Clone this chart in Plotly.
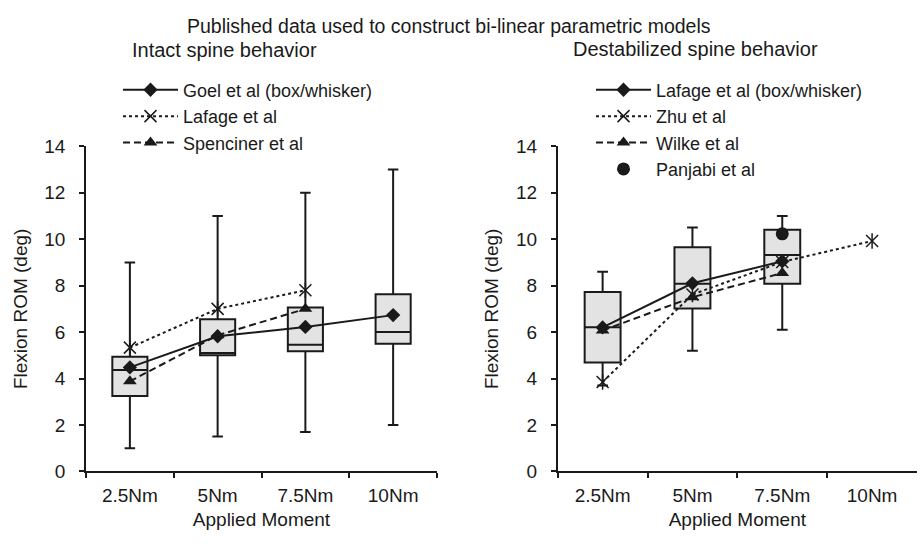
import plotly.graph_objects as go

cats = ["2.5Nm", "5Nm", "7.5Nm", "10Nm"]

# Intact (left) - Goel box/whisker
goel_min = [1.0, 1.5, 1.7, 2.0]
goel_q1 = [3.25, 5.0, 5.18, 5.5]
goel_med = [4.37, 5.1, 5.45, 6.0]
goel_q3 = [4.94, 6.55, 7.06, 7.63]
goel_max = [9.0, 11.0, 12.0, 13.0]
goel_mean = [4.48, 5.82, 6.22, 6.73]
lafage_intact = [5.33, 7.0, 7.8]
spenciner = [3.88, 5.86, 7.0]

# Destabilized (right) - Lafage box/whisker
lafage_cats = ["2.5Nm", "5Nm", "7.5Nm"]
lafage_min = [3.7, 5.2, 6.1]
lafage_q1 = [4.69, 7.01, 8.08]
lafage_med = [6.21, 8.08, 9.32]
lafage_q3 = [7.73, 9.65, 10.41]
lafage_max = [8.6, 10.5, 11.0]
lafage_mean = [6.2, 8.1, 9.05]
zhu = [3.85, 7.62, 9.02, 9.92]
wilke = [6.07, 7.5, 8.54]
panjabi_cat = ["7.5Nm"]
panjabi = [10.23]

FONT = "Liberation Sans, Arial, sans-serif"
BLACK = "#1a1a1a"
FILL = "#e3e3e3"
DASH = "7px,4px"

fig = go.Figure()

def add_box(x, q1, med, q3, lo, hi, xa, ya):
    fig.add_trace(go.Box(
        x=x, q1=q1, median=med, q3=q3, lowerfence=lo, upperfence=hi,
        fillcolor=FILL, line=dict(color=BLACK, width=2),
        whiskerwidth=0.3, width=0.4, boxpoints=False,
        showlegend=False, hoverinfo="skip", xaxis=xa, yaxis=ya))

add_box(cats, goel_q1, goel_med, goel_q3, goel_min, goel_max, "x", "y")
add_box(lafage_cats, lafage_q1, lafage_med, lafage_q3, lafage_min, lafage_max, "x2", "y2")

def line_trace(x, y, name, dash, width, symbol, size, xa, ya, legend, mode="lines+markers", mline=0):
    fig.add_trace(go.Scatter(
        x=x, y=y, name=name, mode=mode,
        line=dict(color=BLACK, width=width, dash=dash),
        marker=dict(symbol=symbol, size=size, color=BLACK,
                    line=dict(color=BLACK, width=mline)),
        xaxis=xa, yaxis=ya, legend=legend))

def star_overlay(x, y, xa, ya):
    fig.add_trace(go.Scatter(
        x=x, y=y, mode="markers", showlegend=False, hoverinfo="skip",
        marker=dict(symbol="line-ns-open", size=11, color=BLACK,
                    line=dict(color=BLACK, width=1.5)),
        xaxis=xa, yaxis=ya))

# Left panel
line_trace(cats, goel_mean, "Goel et al (box/whisker)", "solid", 2, "diamond", 11, "x", "y", "legend")
line_trace(cats[:3], lafage_intact, "Lafage et al", "dot", 2, "x-thin-open", 12, "x", "y", "legend", mline=1.5)
star_overlay(cats[:3], lafage_intact, "x", "y")
line_trace(cats[:3], spenciner, "Spenciner et al", DASH, 2, "triangle-up", 12, "x", "y", "legend")

# Right panel
line_trace(lafage_cats, lafage_mean, "Lafage et al (box/whisker)", "solid", 2, "diamond", 11, "x2", "y2", "legend2")
line_trace(cats, zhu, "Zhu et al", "dot", 2, "x-thin-open", 12, "x2", "y2", "legend2", mline=1.5)
star_overlay(cats, zhu, "x2", "y2")
line_trace(lafage_cats, wilke, "Wilke et al", DASH, 2, "triangle-up", 12, "x2", "y2", "legend2")
line_trace(panjabi_cat, panjabi, "Panjabi et al", "solid", 2, "circle", 13, "x2", "y2", "legend2", mode="markers")

W, H = 924, 544
ybot = 1 - 480 / H
ytop = 1 - 141.7 / H

xaxis_common = dict(
    type="category", categoryorder="array", categoryarray=cats,
    range=[-0.5, 3.5], showline=True, linecolor=BLACK, linewidth=1.5,
    ticks="outside", ticklen=5, tickwidth=1.5, tickcolor=BLACK,
    tickson="boundaries", showgrid=False, zeroline=False,
    ticklabelstandoff=6,
    tickfont=dict(family=FONT, size=19, color=BLACK),
    title=dict(text="Applied Moment", font=dict(family=FONT, size=19, color=BLACK), standoff=8),
)
yaxis_common = dict(
    range=[0, 14], dtick=2, showline=True, linecolor=BLACK, linewidth=1.5,
    ticks="outside", ticklen=5, tickwidth=1.5, tickcolor=BLACK,
    showgrid=False, zeroline=False, ticklabelstandoff=10,
    tickfont=dict(family=FONT, size=19, color=BLACK),
    title=dict(text="Flexion ROM (deg)", font=dict(family=FONT, size=19, color=BLACK), standoff=12),
    domain=[ybot, ytop],
)

legend_common = dict(
    font=dict(family=FONT, size=18, color=BLACK),
    bgcolor="rgba(0,0,0,0)", xanchor="left", yanchor="top",
    tracegroupgap=0, itemclick=False, itemdoubleclick=False,
    itemwidth=55,
)

fig.update_layout(
    width=W, height=H,
    margin=dict(l=0, r=0, t=0, b=0),
    paper_bgcolor="white", plot_bgcolor="white",
    font=dict(family=FONT, color=BLACK),
    xaxis=dict(**xaxis_common, domain=[86 / W, 437 / W], anchor="y"),
    yaxis=dict(**yaxis_common, anchor="x"),
    xaxis2=dict(**xaxis_common, domain=[557.7 / W, 917 / W], anchor="y2"),
    yaxis2=dict(**yaxis_common, anchor="x2"),
    legend=dict(**legend_common, x=118 / W, y=1 - 64 / H),
    legend2=dict(**legend_common, x=591 / W, y=1 - 64 / H),
    annotations=[
        dict(text="Published data used to construct bi-linear parametric models",
             x=449 / W, y=1 - 17 / H, xref="paper", yref="paper", showarrow=False,
             xanchor="center", yanchor="middle", font=dict(family=FONT, size=19.5, color=BLACK)),
        dict(text="Intact spine behavior",
             x=130 / W, y=1 - 42 / H, xref="paper", yref="paper", showarrow=False,
             xanchor="left", yanchor="middle", font=dict(family=FONT, size=20, color=BLACK)),
        dict(text="Destabilized spine behavior",
             x=571 / W, y=1 - 41 / H, xref="paper", yref="paper", showarrow=False,
             xanchor="left", yanchor="middle", font=dict(family=FONT, size=20, color=BLACK)),
    ],
)

fig.write_html("out.html", config={"displayModeBar": False},
               post_script="document.body.style.margin='0px';")
